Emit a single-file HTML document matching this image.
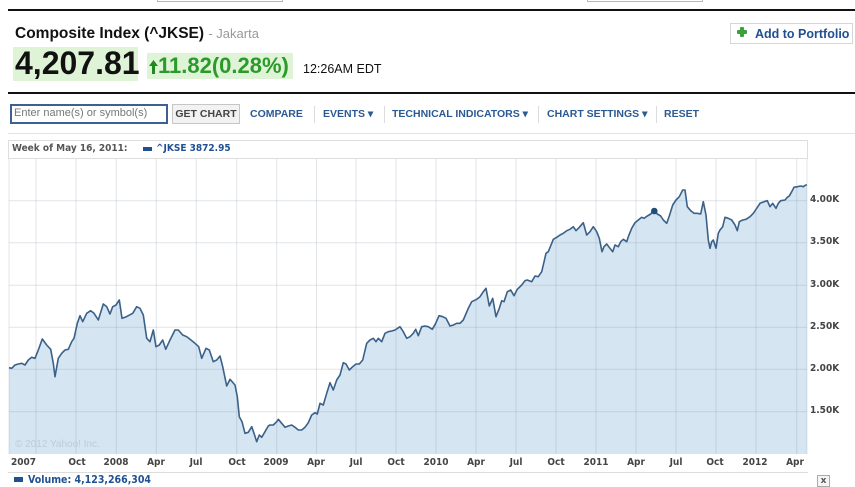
<!DOCTYPE html>
<html><head><meta charset="utf-8">
<style>
*{margin:0;padding:0;box-sizing:border-box}
body{width:855px;height:484px;overflow:hidden;background:#fff;position:relative;font-family:"Liberation Sans",Arial,sans-serif}
.a{position:absolute;white-space:nowrap}
.tb{position:absolute;top:108px;font:bold 10.5px "Liberation Sans",Arial,sans-serif;color:#2b5a93;white-space:nowrap;line-height:12px}
.sep{position:absolute;top:106px;width:1px;height:17px;background:#dcdcdc}
.xl{position:absolute;top:457px;font:bold 10px "DejaVu Sans Condensed","DejaVu Sans",sans-serif;color:#444;width:40px;text-align:center;line-height:12px}
.yl{position:absolute;left:810px;font:bold 10px "DejaVu Sans Condensed","DejaVu Sans",sans-serif;color:#444;line-height:12px}
</style></head><body>

<div class="a" style="left:157px;top:-2px;width:126px;height:4px;border:1px solid #b8b8b8;border-top:none"></div>
<div class="a" style="left:587px;top:-2px;width:116px;height:4px;border:1px solid #b8b8b8;border-top:none"></div>
<div class="a" style="left:8px;top:9px;width:847px;height:2px;background:#111"></div>

<div class="a" style="left:15px;top:25px;font:bold 15.5px 'Liberation Sans',Arial,sans-serif;color:#111">Composite Index (^JKSE) <span style="font-weight:normal;font-size:13px;color:#999">- Jakarta</span></div>

<div class="a" style="left:13px;top:47px;width:125px;height:34px;background:#dff3d6"></div>
<div class="a" style="left:15px;top:45px;font:bold 32px 'Liberation Sans',Arial,sans-serif;color:#111;line-height:36px">4,207.81</div>

<div class="a" style="left:147px;top:53px;width:146px;height:26px;background:#dff3d6"></div>
<svg class="a" style="left:149px;top:60px" width="9" height="14" viewBox="0 0 9 14"><polygon points="4.5,0 9,6 6,6 6,14 3,14 3,6 0,6" fill="#1f8a1f"/></svg>
<div class="a" style="left:158px;top:53px;font:bold 22px 'Liberation Sans',Arial,sans-serif;color:#2a9a2a;line-height:26px">11.82(0.28%)</div>
<div class="a" style="left:303px;top:62px;font:12.5px 'Liberation Sans',Arial,sans-serif;color:#111">12:26AM EDT</div>

<div class="a" style="left:730px;top:23px;width:123px;height:21px;border:1px solid #d6d6d6;background:#fff"></div>
<div class="a" style="left:740px;top:27px;width:4px;height:10px;background:#3aa23a;border-radius:1px"></div>
<div class="a" style="left:737px;top:30px;width:10px;height:4px;background:#3aa23a;border-radius:1px"></div>
<div class="a" style="left:755px;top:27px;font:bold 12.5px 'Liberation Sans',Arial,sans-serif;color:#1f5092">Add to Portfolio</div>

<div class="a" style="left:8px;top:92px;width:847px;height:2px;background:#111"></div>

<div class="a" style="left:10px;top:104px;width:158px;height:20px;border:2px solid #3d5f94;background:#fff"></div>
<div class="a" style="left:14px;top:107px;font:11px 'Liberation Sans',Arial,sans-serif;color:#777">Enter name(s) or symbol(s)</div>
<div class="a" style="left:172px;top:104px;width:68px;height:20px;border:1px solid #c6c6c6;background:#f2f2f2"></div>
<div class="a" style="left:172px;top:108px;width:68px;text-align:center;font:bold 10.5px 'Liberation Sans',Arial,sans-serif;color:#444">GET CHART</div>
<div class="tb" style="left:250px">COMPARE</div>
<div class="sep" style="left:314px"></div>
<div class="tb" style="left:323px">EVENTS &#9662;</div>
<div class="sep" style="left:384px"></div>
<div class="tb" style="left:392px">TECHNICAL INDICATORS &#9662;</div>
<div class="sep" style="left:538px"></div>
<div class="tb" style="left:547px">CHART SETTINGS &#9662;</div>
<div class="sep" style="left:656px"></div>
<div class="tb" style="left:664px">RESET</div>

<div class="a" style="left:8px;top:133px;width:847px;height:1px;background:#e2e2e2"></div>

<div class="a" style="left:8px;top:140px;width:800px;height:19px;border:1px solid #dedede;background:#fff"></div>
<div class="a" style="left:12px;top:143px;font:bold 10px 'DejaVu Sans Condensed','DejaVu Sans',sans-serif;color:#555;line-height:12px">Week of May 16, 2011:</div>
<div class="a" style="left:143px;top:147px;width:9px;height:4px;background:#1f5092"></div>
<div class="a" style="left:156px;top:143px;font:bold 10px 'DejaVu Sans Condensed','DejaVu Sans',sans-serif;color:#1f5092;line-height:12px">^JKSE 3872.95</div>

<svg class="a" style="left:0;top:0" width="855" height="484" viewBox="0 0 855 484">
<rect x="9" y="159" width="798" height="295" fill="#fff"/>
<polygon fill="#d5e5f1" points="9,454 9,367.7 11.7,368.3 15,365 18.3,364 21.7,363.3 25,365 28.3,360 31.7,357.3 35,358.3 38.3,350 42.3,339 46.7,345 50.7,349.3 53.3,363.3 55,376.7 58.3,358.3 61.7,353.3 65,350 68.3,349.3 71.7,341.7 74,338.3 77.3,323.3 80,315.7 82.7,321.7 86.7,313.3 90.7,310.7 94,313.3 98.3,320 103.3,304 106.7,306.7 110,314 112.7,306.7 116,305 119.3,300 122,318.3 125,317.3 128.3,315.7 132.7,313.3 136.7,306.7 140,308.3 143.3,315 146.7,338.3 150,341.7 153.3,330 156,346.7 159.3,345 162.7,340 165.7,349.3 170,340 175,330 178.3,330 182.7,335 186.7,336.7 190,339.3 195,343.3 198.7,346.7 201.7,358.3 206,348.3 209.3,350 213.3,361.7 216.7,360 220,356 222.7,366.7 226.7,386 230,379.3 235,385 237.3,396.7 239.3,416.7 242,421.7 245,433.3 248.3,432.3 251.7,426.7 254,433.3 256.7,441.7 259.3,435 261.7,437.3 265,431.7 268.3,426 270,425 273.3,425 276.7,421.7 278.3,419.3 281.7,423.3 285,427.3 288.3,426 291.7,425 295,427.3 298.3,430 301.7,430 305,427.3 308.3,422.7 311.7,415 315,412.7 317.3,414 320,403.3 323.3,405 326.7,393.3 330,382.7 333.3,390 336.7,380 340,375 343.3,362.7 346,364 349.3,370 352.7,366.7 356,364 359.3,364 362.7,360 366.7,343.3 370,340 373.3,338.3 376,341.7 378.3,338.3 381.7,341.7 385,333.3 388.3,331.7 391.7,331 395,330 400,326.7 403.3,331.7 406.7,338.3 410,336.7 413.3,333.3 415.7,329.3 418.3,335.7 421.7,326.7 425,326 428.3,326.7 432.3,329.3 435.7,323.3 439,315.7 442.7,316.7 446,318.3 450,326 453.3,325 456.7,323.3 460,323.3 463.3,320 468.3,308.3 471.7,301.7 476.7,299.3 480,296.7 483.3,291.7 486,288.3 489.3,306 492.7,298.3 496,316.7 499.3,308.3 501.7,300.7 504,301.7 507.3,291.7 510.7,290 514,295.7 517.3,289.3 521.7,285 525,280.7 527.3,280 531.7,281.7 535,276 538.3,276.7 541.7,271.7 543.3,265 546,253.3 548.3,251.7 551.7,243.3 553.3,239.3 556.7,237.3 560,235 563.3,233.3 566.7,230.7 570,229.3 573.3,226.7 576,230.7 579.3,227.3 583.3,222.7 586.7,235 590,231.7 593.3,226.7 596.7,231.7 599.3,238.3 602,251.7 604,246.7 606.7,244 610,248.3 612.7,251.7 615,245 618.3,246.7 620.7,241.7 623.3,239.3 626.7,241.7 628.3,236.7 631.7,228.3 635,222.7 638.3,220 641.7,217.3 644,218.3 647.3,216 650.7,214 654,210.7 657.3,214 660.7,216 663.3,220 666.7,223.3 669.3,216 672.7,205 676,200 679.3,196.7 682.7,190 685,190 687.3,206.7 690.7,210.7 694,213.3 697.3,213.3 700.7,214 703.3,201.7 706,215 708.3,240 710,248.3 711.7,241.7 713.3,240 716,248.3 718.3,233.3 720,230 722.7,226.7 725,217.3 728.3,218.3 731.7,220 735,225 737.3,230.7 739.3,221.7 742.7,220 746,219.3 750,216.7 753.3,213.3 756.7,208.3 760,203.3 764,201.7 767.3,200.7 770,206.7 772.7,203.3 776,208.3 778.3,203.3 780.7,200.7 785,200 787.3,197.3 789.3,196 791.7,191.7 794,187.3 797.3,186.7 800.7,186 803.3,186.7 805.7,185 807,185 807,454"/>
<g stroke="rgba(120,135,150,0.22)" stroke-width="1">
<line x1="36" y1="159" x2="36" y2="454"/><line x1="76" y1="159" x2="76" y2="454"/><line x1="116.3" y1="159" x2="116.3" y2="454"/><line x1="156.3" y1="159" x2="156.3" y2="454"/><line x1="196.3" y1="159" x2="196.3" y2="454"/><line x1="236.7" y1="159" x2="236.7" y2="454"/><line x1="276.7" y1="159" x2="276.7" y2="454"/><line x1="316.5" y1="159" x2="316.5" y2="454"/><line x1="356" y1="159" x2="356" y2="454"/><line x1="396" y1="159" x2="396" y2="454"/><line x1="436" y1="159" x2="436" y2="454"/><line x1="476" y1="159" x2="476" y2="454"/><line x1="516" y1="159" x2="516" y2="454"/><line x1="556" y1="159" x2="556" y2="454"/><line x1="596" y1="159" x2="596" y2="454"/><line x1="636" y1="159" x2="636" y2="454"/><line x1="676" y1="159" x2="676" y2="454"/><line x1="716" y1="159" x2="716" y2="454"/><line x1="756" y1="159" x2="756" y2="454"/><line x1="796.7" y1="159" x2="796.7" y2="454"/>
<line x1="9" y1="200.7" x2="807" y2="200.7"/><line x1="9" y1="242.7" x2="807" y2="242.7"/><line x1="9" y1="285.3" x2="807" y2="285.3"/><line x1="9" y1="327.3" x2="807" y2="327.3"/><line x1="9" y1="369.3" x2="807" y2="369.3"/><line x1="9" y1="411.7" x2="807" y2="411.7"/>
<line x1="9" y1="159" x2="9" y2="454"/><line x1="807" y1="159" x2="807" y2="454"/>
</g>
<polyline fill="none" stroke="#3b6189" stroke-width="1.6" stroke-linejoin="round" points="9,367.7 11.7,368.3 15,365 18.3,364 21.7,363.3 25,365 28.3,360 31.7,357.3 35,358.3 38.3,350 42.3,339 46.7,345 50.7,349.3 53.3,363.3 55,376.7 58.3,358.3 61.7,353.3 65,350 68.3,349.3 71.7,341.7 74,338.3 77.3,323.3 80,315.7 82.7,321.7 86.7,313.3 90.7,310.7 94,313.3 98.3,320 103.3,304 106.7,306.7 110,314 112.7,306.7 116,305 119.3,300 122,318.3 125,317.3 128.3,315.7 132.7,313.3 136.7,306.7 140,308.3 143.3,315 146.7,338.3 150,341.7 153.3,330 156,346.7 159.3,345 162.7,340 165.7,349.3 170,340 175,330 178.3,330 182.7,335 186.7,336.7 190,339.3 195,343.3 198.7,346.7 201.7,358.3 206,348.3 209.3,350 213.3,361.7 216.7,360 220,356 222.7,366.7 226.7,386 230,379.3 235,385 237.3,396.7 239.3,416.7 242,421.7 245,433.3 248.3,432.3 251.7,426.7 254,433.3 256.7,441.7 259.3,435 261.7,437.3 265,431.7 268.3,426 270,425 273.3,425 276.7,421.7 278.3,419.3 281.7,423.3 285,427.3 288.3,426 291.7,425 295,427.3 298.3,430 301.7,430 305,427.3 308.3,422.7 311.7,415 315,412.7 317.3,414 320,403.3 323.3,405 326.7,393.3 330,382.7 333.3,390 336.7,380 340,375 343.3,362.7 346,364 349.3,370 352.7,366.7 356,364 359.3,364 362.7,360 366.7,343.3 370,340 373.3,338.3 376,341.7 378.3,338.3 381.7,341.7 385,333.3 388.3,331.7 391.7,331 395,330 400,326.7 403.3,331.7 406.7,338.3 410,336.7 413.3,333.3 415.7,329.3 418.3,335.7 421.7,326.7 425,326 428.3,326.7 432.3,329.3 435.7,323.3 439,315.7 442.7,316.7 446,318.3 450,326 453.3,325 456.7,323.3 460,323.3 463.3,320 468.3,308.3 471.7,301.7 476.7,299.3 480,296.7 483.3,291.7 486,288.3 489.3,306 492.7,298.3 496,316.7 499.3,308.3 501.7,300.7 504,301.7 507.3,291.7 510.7,290 514,295.7 517.3,289.3 521.7,285 525,280.7 527.3,280 531.7,281.7 535,276 538.3,276.7 541.7,271.7 543.3,265 546,253.3 548.3,251.7 551.7,243.3 553.3,239.3 556.7,237.3 560,235 563.3,233.3 566.7,230.7 570,229.3 573.3,226.7 576,230.7 579.3,227.3 583.3,222.7 586.7,235 590,231.7 593.3,226.7 596.7,231.7 599.3,238.3 602,251.7 604,246.7 606.7,244 610,248.3 612.7,251.7 615,245 618.3,246.7 620.7,241.7 623.3,239.3 626.7,241.7 628.3,236.7 631.7,228.3 635,222.7 638.3,220 641.7,217.3 644,218.3 647.3,216 650.7,214 654,210.7 657.3,214 660.7,216 663.3,220 666.7,223.3 669.3,216 672.7,205 676,200 679.3,196.7 682.7,190 685,190 687.3,206.7 690.7,210.7 694,213.3 697.3,213.3 700.7,214 703.3,201.7 706,215 708.3,240 710,248.3 711.7,241.7 713.3,240 716,248.3 718.3,233.3 720,230 722.7,226.7 725,217.3 728.3,218.3 731.7,220 735,225 737.3,230.7 739.3,221.7 742.7,220 746,219.3 750,216.7 753.3,213.3 756.7,208.3 760,203.3 764,201.7 767.3,200.7 770,206.7 772.7,203.3 776,208.3 778.3,203.3 780.7,200.7 785,200 787.3,197.3 789.3,196 791.7,191.7 794,187.3 797.3,186.7 800.7,186 803.3,186.7 805.7,185 807,185"/>
<circle cx="654.3" cy="211" r="3.3" fill="#1d4e7c"/>
<text x="15" y="447" font-family="Liberation Sans, Arial, sans-serif" font-size="10" fill="#bccddb">© 2012 Yahoo! Inc.</text>
<line x1="8" y1="472.5" x2="808" y2="472.5" stroke="#dcdcdc" stroke-width="1"/>
</svg>

<div class="xl" style="left:11px;text-align:left">2007</div>
<div class="xl" style="left:57px">Oct</div>
<div class="xl" style="left:96px">2008</div>
<div class="xl" style="left:136px">Apr</div>
<div class="xl" style="left:176px">Jul</div>
<div class="xl" style="left:217px">Oct</div>
<div class="xl" style="left:256px">2009</div>
<div class="xl" style="left:296px">Apr</div>
<div class="xl" style="left:336px">Jul</div>
<div class="xl" style="left:376px">Oct</div>
<div class="xl" style="left:416px">2010</div>
<div class="xl" style="left:456px">Apr</div>
<div class="xl" style="left:496px">Jul</div>
<div class="xl" style="left:536px">Oct</div>
<div class="xl" style="left:576px">2011</div>
<div class="xl" style="left:616px">Apr</div>
<div class="xl" style="left:656px">Jul</div>
<div class="xl" style="left:695px">Oct</div>
<div class="xl" style="left:735px">2012</div>
<div class="xl" style="left:775px">Apr</div>

<div class="yl" style="top:194px">4.00K</div>
<div class="yl" style="top:236px">3.50K</div>
<div class="yl" style="top:279px">3.00K</div>
<div class="yl" style="top:321px">2.50K</div>
<div class="yl" style="top:363px">2.00K</div>
<div class="yl" style="top:405px">1.50K</div>

<div class="a" style="left:14px;top:477px;width:9px;height:5px;background:#1f5092"></div>
<div class="a" style="left:28px;top:474px;font:bold 10.5px 'DejaVu Sans Condensed','DejaVu Sans',sans-serif;color:#1f5092;line-height:13px">Volume: 4,123,266,304</div>
<div class="a" style="left:817px;top:475px;width:13px;height:12px;border:1px solid #aaa;background:#f4f4f4;font:bold 9px 'DejaVu Sans',sans-serif;color:#555;text-align:center;line-height:10px">x</div>

</body></html>
